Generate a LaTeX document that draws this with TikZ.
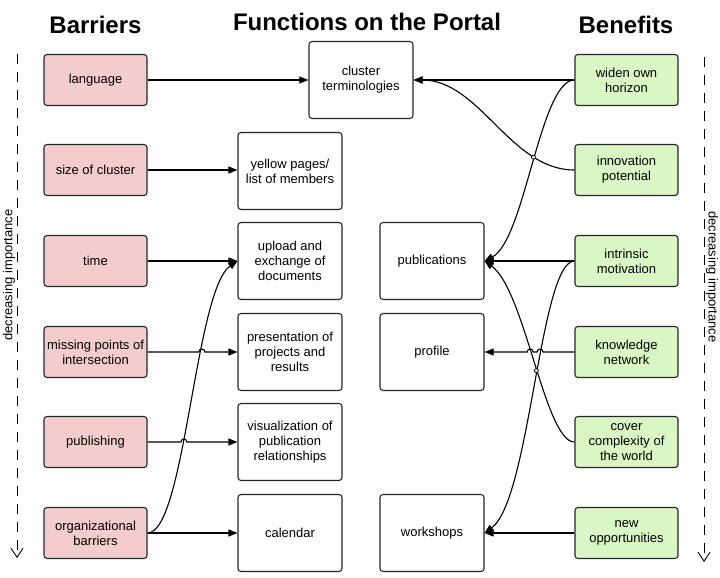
\documentclass[tikz,border=0pt]{standalone}
\usepackage{fontspec}
\setmainfont{Liberation Sans}
\usetikzlibrary{arrows.meta,intersections}
\definecolor{pinkc}{RGB}{244,204,204}
\definecolor{greenc}{RGB}{217,247,196}
\begin{document}
\begin{tikzpicture}[x=1pt,y=1pt,
 box/.style={draw=black!85, line width=1.1pt, rounded corners=3pt, align=center, font=\fontsize{13}{15}\selectfont, inner sep=1pt},
 barrier/.style={box, fill=pinkc, minimum width=103pt, minimum height=51pt},
 benefit/.style={box, fill=greenc, minimum width=103pt, minimum height=51pt},
 func/.style={box, fill=white, minimum width=104pt, minimum height=77pt},
 conn/.style={line width=1.1pt, -{Triangle[length=9pt,width=7pt]}},
 hopc/.style={line width=0.8pt, fill=white},
 titletxt/.style={font=\fontsize{24}{28}\selectfont\bfseries},
 sidetxt/.style={font=\fontsize{13}{15}\selectfont},
 imp/.style={line width=0.9pt, dash pattern=on 10pt off 8pt, -{Straight Barb[length=9pt,width=12pt]}}
]
\useasboundingbox (0,0) rectangle (720,-578);
% titles
\node[titletxt] (tb) at (95.5,-25) {Barriers};
\node[titletxt] (tf) at (367,-22) {Functions on the Portal};
\node[titletxt] (tn) at (626,-25) {Benefits};
% side labels
\node[sidetxt, rotate=90] (sl) at (9,-275) {decreasing importance};
\node[sidetxt, rotate=-90] (sr) at (712,-277) {decreasing importance};
\coordinate (lt) at (17,-54);
\coordinate (lb) at (17,-558);
\coordinate (rt) at (704,-57);
\coordinate (rb) at (704,-562);
\draw[imp] (lt) -- (lb);
\draw[imp] (rt) -- (rb);
% barriers
\node[barrier] (language) at (95.5,-80) {language};
\node[barrier] (size) at (95.5,-170) {size of cluster};
\node[barrier] (time) at (95.5,-261) {time};
\node[barrier] (missing) at (95.5,-352) {missing points of\\intersection};
\node[barrier] (publishing) at (95.5,-442) {publishing};
\node[barrier] (org) at (95.5,-533) {organizational\\barriers};
% functions
\node[func] (cluster) at (361,-80) {cluster\\terminologies};
\node[func] (yellow) at (290,-171) {yellow pages/\\list of members};
\node[func] (upload) at (290,-261) {upload and\\exchange of\\documents};
\node[func] (presentation) at (290,-352) {presentation of\\projects and\\results};
\node[func] (visual) at (290,-442) {visualization of\\publication\\relationships};
\node[func] (calendar) at (290,-533) {calendar};
\node[func] (publications) at (432,-261) {publications};
\node[func] (profile) at (432,-352) {profile};
\node[func] (workshops) at (432,-533) {workshops};
% benefits
\node[benefit] (widen) at (626.5,-80) {widen own\\horizon};
\node[benefit] (innovation) at (626.5,-170) {innovation\\potential};
\node[benefit] (intrinsic) at (626.5,-261) {intrinsic\\motivation};
\node[benefit] (knowledge) at (626.5,-352) {knowledge\\network};
\node[benefit] (cover) at (626.5,-442) {cover\\complexity of\\the world};
\node[benefit] (newopp) at (626.5,-533) {new\\opportunities};
% left connectors
\draw[conn] (language) -- (cluster);
\draw[conn] (size.east) -- (size.east -| yellow.west);
\draw[conn] (time) -- (upload);
\draw[conn] (org) -- (calendar);
\draw[conn, name path=orgc] (org.east) .. controls (185,-533) and (195,-290) .. (upload.west);
\path[name path=l1] (missing.east) -- (presentation.west);
\path[name path=l2] (publishing.east) -- (visual.west);
\path[name intersections={of=orgc and l1, by=h1}];
\path[name intersections={of=orgc and l2, by=h2}];
\draw[conn] (missing.east) -- ([xshift=-3pt]h1) arc[start angle=180,end angle=0,radius=3pt] -- (presentation.west);
\draw[conn] (publishing.east) -- ([xshift=-3pt]h2) arc[start angle=180,end angle=0,radius=3pt] -- (visual.west);
% right connectors
\draw[conn] (widen) -- (cluster);
\draw[conn] (intrinsic) -- (publications);
\draw[conn] (newopp) -- (workshops);
\draw[conn, name path=wc] (widen.west) .. controls (540,-80) and (525,-240) .. (publications.east);
\draw[conn, name path=ic] (innovation.west) .. controls (510,-170) and (480,-80) .. (cluster.east);
\draw[conn, name path=cc] (cover.west) .. controls (545,-442) and (525,-290) .. (publications.east);
\draw[conn, name path=mc] (intrinsic.west) .. controls (540,-261) and (530,-500) .. (workshops.east);
\path[name path=l3] (knowledge.west) -- (profile.east);
\path[name intersections={of=mc and l3, by=k1}];
\path[name intersections={of=cc and l3, by=k2}];
\draw[conn] (knowledge.west) -- ([xshift=3pt]k1) arc[start angle=0,end angle=180,radius=3pt] -- ([xshift=3pt]k2) arc[start angle=0,end angle=180,radius=3pt] -- (profile.east);
\path[name intersections={of=wc and ic, by=c1}];
\path[name intersections={of=cc and mc, by=c2}];
\draw[hopc] (c1) circle (2pt);
\draw[hopc] (c2) circle (2pt);
\end{tikzpicture}
\end{document}
